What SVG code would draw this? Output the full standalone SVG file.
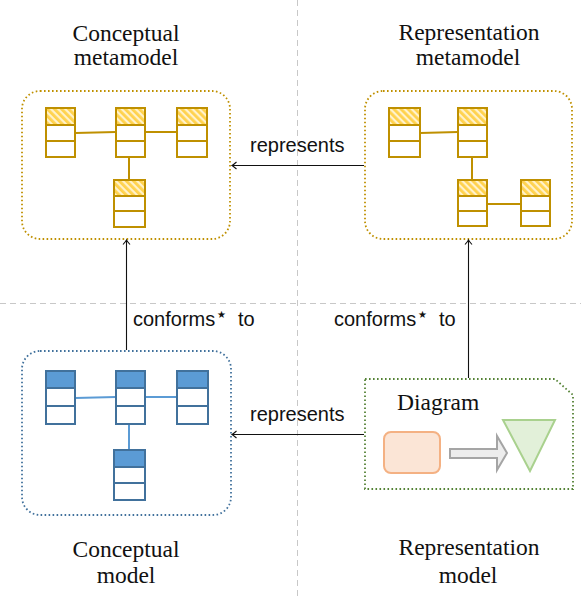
<svg xmlns="http://www.w3.org/2000/svg" width="581" height="599" viewBox="0 0 581 599">
<style>
.sep{stroke:#c8c8c8;stroke-width:1;stroke-dasharray:6 4;fill:none}
.title{font-family:"Liberation Serif",serif;font-size:23.5px;fill:#111;text-anchor:middle}
.lbl{font-family:"Liberation Sans",Arial,sans-serif;font-size:20px;fill:#111}
.star{font-family:"DejaVu Sans",sans-serif;font-size:10px}
.frame{fill:none;stroke-width:1.8;stroke-dasharray:1.6 2.4}
.gold .frame{stroke:#BF9000}
.blue .frame{stroke:#41719C}
.green .frame{stroke:#548235}
.gcls rect{fill:#fff;stroke:#BF9000;stroke-width:2}
.gcls rect.h{fill:url(#hatch)}
.gcls line{stroke:#BF9000;stroke-width:2}
.bcls rect{fill:#fff;stroke:#41719C;stroke-width:2}
.bcls rect.h{fill:#5B9BD5}
.bcls line{stroke:#41719C;stroke-width:2}
.glink{stroke:#BF9000;stroke-width:2;fill:none}
.blink{stroke:#5B9BD5;stroke-width:2;fill:none}
.edge{stroke:#111;stroke-width:1.1;fill:none;marker-end:url(#to)}
</style>
<defs>
<pattern id="hatch" patternUnits="userSpaceOnUse" width="5" height="5" patternTransform="rotate(-45)">
<rect width="5" height="5" fill="#FFF2CC"/>
<rect width="2.8" height="5" fill="#FFD24D"/>
</pattern>
<marker id="to" viewBox="-6 -5 8 10" refX="0" refY="0" markerWidth="8" markerHeight="10" markerUnits="userSpaceOnUse" orient="auto">
<path d="M-4.5,-3.5 Q-1.2,-0.6 0,0 Q-1.2,0.6 -4.5,3.5" fill="none" stroke="#111" stroke-width="1.1"/>
</marker>
</defs>
<rect width="581" height="599" fill="#fff"/>
<g id="separators">
<line class="sep" x1="297.5" y1="0" x2="297.5" y2="599"/>
<line class="sep" x1="0" y1="303.5" x2="581" y2="303.5"/>
</g>
<g id="titles">
<text class="title" x="126" y="41">Conceptual</text>
<text class="title" x="126" y="65">metamodel</text>
<text class="title" x="469" y="40">Representation</text>
<text class="title" x="468" y="65">metamodel</text>
<text class="title" x="126" y="557">Conceptual</text>
<text class="title" x="126" y="583">model</text>
<text class="title" x="469" y="555">Representation</text>
<text class="title" x="468" y="583">model</text>
</g>
<g id="conceptual-metamodel" class="gold">
<rect class="frame" x="22" y="91" width="208" height="148" rx="18"/>
<path class="glink" d="M75,133 L116,132 M145,132 L177,132 M129,157 L129,180"/>
<g class="gcls"><rect x="46" y="108" width="29" height="49"/><rect class="h" x="46" y="108" width="29" height="17"/><line x1="46" y1="141" x2="75" y2="141"/></g>
<g class="gcls"><rect x="116" y="108" width="29" height="49"/><rect class="h" x="116" y="108" width="29" height="17"/><line x1="116" y1="141" x2="145" y2="141"/></g>
<g class="gcls"><rect x="177" y="108" width="30" height="49"/><rect class="h" x="177" y="108" width="30" height="17"/><line x1="177" y1="141" x2="207" y2="141"/></g>
<g class="gcls"><rect x="114" y="180" width="31" height="47"/><rect class="h" x="114" y="180" width="31" height="16"/><line x1="114" y1="211" x2="145" y2="211"/></g>
</g>
<g id="representation-metamodel" class="gold">
<rect class="frame" x="365" y="91" width="207" height="148" rx="18"/>
<path class="glink" d="M420,133 L458,132 M472,157 L472,180 M487,204 L521,204"/>
<g class="gcls"><rect x="389" y="108" width="31" height="49"/><rect class="h" x="389" y="108" width="31" height="17"/><line x1="389" y1="141" x2="420" y2="141"/></g>
<g class="gcls"><rect x="458" y="108" width="29" height="49"/><rect class="h" x="458" y="108" width="29" height="17"/><line x1="458" y1="141" x2="487" y2="141"/></g>
<g class="gcls"><rect x="458" y="180" width="29" height="46"/><rect class="h" x="458" y="180" width="29" height="16"/><line x1="458" y1="211" x2="487" y2="211"/></g>
<g class="gcls"><rect x="521" y="180" width="29" height="46"/><rect class="h" x="521" y="180" width="29" height="16"/><line x1="521" y1="211" x2="550" y2="211"/></g>
</g>
<g id="conceptual-model" class="blue">
<rect class="frame" x="22" y="351" width="209" height="164" rx="18"/>
<path class="blink" d="M75,398 L116,397 M145,397 L177,397 M129,424 L129,450"/>
<g class="bcls"><rect x="46" y="371" width="29" height="53"/><rect class="h" x="46" y="371" width="29" height="17"/><line x1="46" y1="406" x2="75" y2="406"/></g>
<g class="bcls"><rect x="116" y="371" width="29" height="53"/><rect class="h" x="116" y="371" width="29" height="17"/><line x1="116" y1="406" x2="145" y2="406"/></g>
<g class="bcls"><rect x="177" y="371" width="31" height="53"/><rect class="h" x="177" y="371" width="31" height="17"/><line x1="177" y1="406" x2="208" y2="406"/></g>
<g class="bcls"><rect x="114" y="450" width="31" height="50"/><rect class="h" x="114" y="450" width="31" height="17"/><line x1="114" y1="483" x2="145" y2="483"/></g>
</g>
<g id="representation-model" class="green">
<path class="frame" d="M365,379 H555 L573,395 V489 H365 Z"/>
<text class="title" x="397" y="410" style="text-anchor:start">Diagram</text>
<rect x="384" y="432" width="56" height="41" rx="7" fill="#FBE5D6" stroke="#F4B183" stroke-width="2"/>
<path d="M450,449 H497 V436 L507,453 L497,470 V458 H450 Z" fill="#EDEDED" stroke="#A5A5A5" stroke-width="2"/>
<path d="M503,420 H555 L530,471 Z" fill="#E2F0D9" stroke="#A9D18E" stroke-width="2"/>
</g>
<g id="connectors">
<line class="edge" x1="364" y1="165.5" x2="232" y2="165.5"/>
<line class="edge" x1="364" y1="434.5" x2="232" y2="434.5"/>
<line class="edge" x1="126.5" y1="350" x2="126.5" y2="240"/>
<line class="edge" x1="468.5" y1="378" x2="468.5" y2="240"/>
<text class="lbl" x="250" y="152">represents</text>
<text class="lbl" x="250" y="421">represents</text>
<text class="lbl" y="326"><tspan x="133">conforms</tspan><tspan class="star" x="217" dy="-8">★</tspan><tspan x="238" dy="8">to</tspan></text>
<text class="lbl" y="326"><tspan x="334">conforms</tspan><tspan class="star" x="418" dy="-8">★</tspan><tspan x="439" dy="8">to</tspan></text>
</g>
</svg>
